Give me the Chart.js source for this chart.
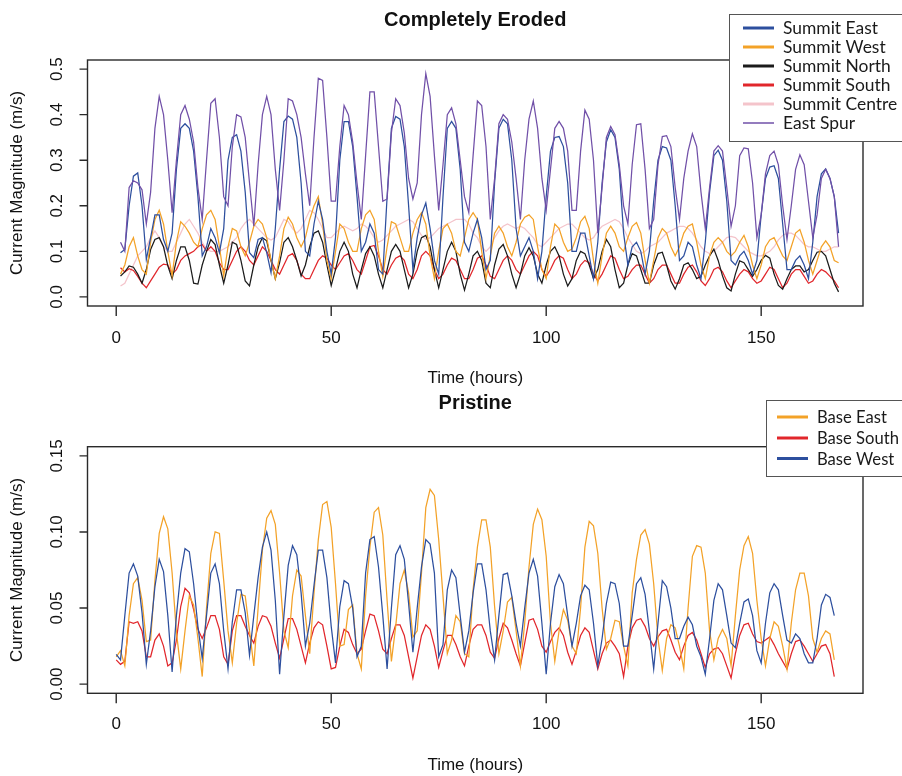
<!DOCTYPE html>
<html><head><meta charset="utf-8">
<script src="https://cdn.jsdelivr.net/npm/chart.js@4.4.0/dist/chart.umd.min.js"></script>
<style>
html,body{margin:0;padding:0;background:#fff;width:902px;height:776px;overflow:hidden}
canvas{position:absolute;left:0}
#c1{top:0}#c2{top:388px}
</style></head><body>
<canvas id="c1" width="902" height="388"></canvas>
<canvas id="c2" width="902" height="388"></canvas>
<script>
// ---------- categories / ticks ----------
const HOURS_TOP = Array.from({length:168},(_,i)=>i+1);
const HOURS_BASE = Array.from({length:168},(_,i)=>i);
const X_TICKS = [0,50,100,150];
const Y_TICKS_TOP = [0,0.1,0.2,0.3,0.4,0.5];
const Y_TICK_LABELS_TOP = ['0.0','0.1','0.2','0.3','0.4','0.5'];
const Y_TICKS_BASE = [0,0.05,0.10,0.15];
const Y_TICK_LABELS_BASE = ['0.00','0.05','0.10','0.15'];

// ---------- Completely Eroded ----------
const SUMMIT_EAST = [0.097,0.104,0.20,0.265,0.272,0.20,0.082,0.13,0.18,0.18,0.126,0.10,
0.14,0.28,0.37,0.38,0.37,0.32,0.22,0.09,0.11,0.15,0.13,0.097,
0.15,0.30,0.35,0.356,0.32,0.23,0.097,0.086,0.126,0.13,0.097,0.053,
0.15,0.28,0.385,0.397,0.39,0.35,0.25,0.10,0.09,0.16,0.21,0.17,
0.10,0.05,0.13,0.30,0.385,0.385,0.33,0.22,0.10,0.12,0.16,0.14,
0.06,0.05,0.22,0.37,0.396,0.39,0.33,0.20,0.06,0.13,0.18,0.206,
0.15,0.08,0.05,0.22,0.37,0.385,0.37,0.28,0.12,0.10,0.14,0.17,
0.13,0.06,0.08,0.25,0.37,0.39,0.38,0.30,0.15,0.09,0.11,0.13,
0.10,0.04,0.10,0.22,0.32,0.35,0.352,0.33,0.25,0.10,0.10,0.14,
0.14,0.09,0.04,0.12,0.25,0.34,0.367,0.35,0.28,0.14,0.07,0.11,
0.12,0.10,0.05,0.10,0.21,0.30,0.33,0.327,0.30,0.20,0.08,0.09,
0.12,0.11,0.07,0.04,0.12,0.23,0.31,0.322,0.30,0.21,0.08,0.07,
0.09,0.10,0.08,0.05,0.08,0.18,0.26,0.285,0.288,0.26,0.16,0.06,
0.06,0.08,0.09,0.07,0.04,0.12,0.22,0.27,0.281,0.26,0.22,0.14];

const SUMMIT_WEST = [0.05,0.07,0.11,0.13,0.09,0.06,0.05,0.12,0.17,0.19,0.16,0.10,
0.046,0.12,0.165,0.155,0.14,0.12,0.11,0.15,0.18,0.19,0.17,0.11,
0.046,0.11,0.15,0.145,0.11,0.09,0.12,0.155,0.17,0.16,0.13,0.08,
0.04,0.09,0.15,0.175,0.16,0.13,0.11,0.13,0.17,0.20,0.22,0.16,
0.08,0.04,0.10,0.16,0.15,0.12,0.10,0.10,0.15,0.18,0.19,0.17,
0.10,0.045,0.11,0.165,0.16,0.13,0.10,0.10,0.14,0.17,0.185,0.16,
0.09,0.04,0.10,0.15,0.16,0.14,0.10,0.09,0.13,0.17,0.185,0.17,
0.10,0.04,0.09,0.14,0.155,0.14,0.11,0.09,0.12,0.16,0.175,0.18,
0.17,0.11,0.06,0.04,0.11,0.16,0.15,0.12,0.10,0.105,0.13,0.165,
0.177,0.15,0.08,0.03,0.09,0.14,0.155,0.14,0.11,0.10,0.13,0.155,
0.163,0.14,0.08,0.03,0.08,0.13,0.15,0.14,0.11,0.09,0.11,0.14,
0.155,0.16,0.12,0.07,0.04,0.09,0.12,0.13,0.12,0.10,0.09,0.10,
0.12,0.135,0.11,0.07,0.04,0.07,0.11,0.125,0.13,0.11,0.09,0.08,
0.11,0.14,0.148,0.12,0.08,0.05,0.08,0.11,0.123,0.11,0.08,0.075];

const SUMMIT_NORTH = [0.046,0.055,0.068,0.065,0.05,0.03,0.06,0.104,0.126,0.13,0.11,0.068,
0.04,0.08,0.11,0.11,0.08,0.03,0.028,0.07,0.10,0.126,0.115,0.07,
0.03,0.07,0.12,0.115,0.08,0.035,0.024,0.07,0.11,0.13,0.123,0.08,
0.04,0.075,0.12,0.13,0.11,0.08,0.046,0.07,0.11,0.14,0.145,0.12,
0.07,0.025,0.06,0.10,0.12,0.10,0.05,0.02,0.06,0.095,0.11,0.09,
0.05,0.02,0.06,0.10,0.115,0.10,0.06,0.02,0.05,0.10,0.13,0.135,
0.11,0.06,0.02,0.06,0.10,0.12,0.10,0.05,0.015,0.05,0.09,0.10,
0.08,0.03,0.02,0.07,0.105,0.115,0.09,0.05,0.02,0.05,0.09,0.108,
0.09,0.05,0.03,0.07,0.10,0.11,0.09,0.05,0.024,0.04,0.08,0.10,
0.095,0.07,0.04,0.06,0.10,0.126,0.11,0.06,0.02,0.03,0.07,0.095,
0.09,0.06,0.03,0.03,0.07,0.095,0.098,0.07,0.035,0.017,0.04,0.07,
0.075,0.06,0.04,0.045,0.07,0.09,0.105,0.08,0.046,0.02,0.013,0.05,
0.079,0.075,0.06,0.045,0.06,0.08,0.091,0.085,0.05,0.025,0.017,0.04,
0.06,0.068,0.068,0.055,0.06,0.08,0.098,0.10,0.09,0.06,0.03,0.011];

const SUMMIT_SOUTH = [0.064,0.055,0.062,0.058,0.045,0.03,0.02,0.035,0.05,0.065,0.072,0.07,
0.05,0.06,0.08,0.09,0.095,0.10,0.11,0.115,0.10,0.11,0.10,0.075,
0.06,0.06,0.08,0.10,0.11,0.10,0.08,0.07,0.09,0.11,0.10,0.08,
0.06,0.05,0.07,0.09,0.095,0.08,0.05,0.04,0.04,0.06,0.08,0.09,
0.085,0.07,0.06,0.075,0.09,0.095,0.08,0.06,0.05,0.08,0.11,0.113,
0.09,0.06,0.05,0.07,0.085,0.09,0.08,0.05,0.04,0.06,0.09,0.10,
0.09,0.06,0.04,0.05,0.07,0.085,0.08,0.06,0.04,0.04,0.06,0.085,
0.09,0.07,0.045,0.04,0.06,0.08,0.09,0.08,0.06,0.05,0.07,0.09,
0.10,0.09,0.06,0.045,0.06,0.08,0.09,0.085,0.06,0.04,0.05,0.07,
0.08,0.075,0.05,0.035,0.05,0.07,0.09,0.085,0.06,0.04,0.045,0.06,
0.07,0.07,0.05,0.03,0.04,0.06,0.07,0.07,0.05,0.03,0.03,0.05,
0.065,0.07,0.055,0.035,0.025,0.04,0.06,0.065,0.055,0.035,0.02,0.035,
0.05,0.06,0.055,0.04,0.03,0.035,0.05,0.065,0.06,0.04,0.02,0.03,
0.05,0.06,0.06,0.045,0.03,0.035,0.05,0.06,0.055,0.045,0.035,0.02];

const SUMMIT_CENTRE = [0.024,0.03,0.05,0.07,0.09,0.10,0.11,0.13,0.145,0.13,0.11,0.10,
0.10,0.12,0.14,0.16,0.17,0.155,0.14,0.12,0.105,0.10,0.10,0.10,
0.105,0.11,0.12,0.13,0.15,0.163,0.17,0.16,0.15,0.14,0.13,0.125,
0.13,0.15,0.17,0.165,0.15,0.14,0.15,0.17,0.19,0.185,0.17,0.15,
0.13,0.13,0.14,0.15,0.155,0.15,0.145,0.15,0.16,0.155,0.145,0.13,
0.12,0.125,0.135,0.145,0.155,0.16,0.165,0.17,0.165,0.15,0.135,0.126,
0.13,0.14,0.15,0.155,0.16,0.165,0.17,0.17,0.17,0.16,0.14,0.13,
0.11,0.10,0.11,0.13,0.145,0.155,0.16,0.155,0.15,0.155,0.15,0.14,
0.13,0.115,0.11,0.12,0.13,0.14,0.15,0.155,0.16,0.16,0.15,0.14,
0.13,0.125,0.13,0.145,0.155,0.16,0.165,0.17,0.165,0.15,0.13,0.115,
0.10,0.095,0.10,0.11,0.115,0.12,0.13,0.14,0.145,0.15,0.155,0.155,
0.15,0.14,0.125,0.11,0.10,0.095,0.10,0.11,0.12,0.13,0.133,0.13,
0.12,0.11,0.10,0.095,0.09,0.09,0.095,0.10,0.11,0.125,0.135,0.14,
0.14,0.135,0.125,0.115,0.11,0.11,0.105,0.10,0.10,0.105,0.11,0.11];

const EAST_SPUR = [0.12,0.10,0.24,0.255,0.25,0.235,0.16,0.23,0.37,0.44,0.40,0.30,
0.185,0.30,0.40,0.42,0.39,0.34,0.24,0.17,0.30,0.425,0.435,0.35,
0.22,0.20,0.33,0.40,0.395,0.35,0.25,0.155,0.29,0.40,0.44,0.40,
0.28,0.19,0.30,0.435,0.43,0.40,0.35,0.27,0.20,0.35,0.48,0.475,
0.35,0.21,0.21,0.33,0.42,0.40,0.34,0.25,0.17,0.31,0.45,0.45,
0.33,0.21,0.215,0.36,0.435,0.42,0.36,0.26,0.215,0.25,0.40,0.49,
0.44,0.31,0.19,0.29,0.40,0.415,0.38,0.30,0.22,0.185,0.31,0.43,
0.42,0.33,0.17,0.26,0.38,0.40,0.39,0.34,0.26,0.17,0.30,0.39,
0.43,0.37,0.26,0.19,0.28,0.37,0.385,0.37,0.32,0.19,0.19,0.32,
0.41,0.39,0.30,0.14,0.24,0.35,0.374,0.356,0.29,0.20,0.16,0.29,
0.378,0.38,0.28,0.15,0.17,0.29,0.352,0.354,0.33,0.24,0.17,0.26,
0.32,0.358,0.33,0.23,0.15,0.24,0.32,0.332,0.32,0.24,0.155,0.20,
0.31,0.327,0.325,0.25,0.13,0.18,0.27,0.31,0.32,0.29,0.20,0.126,
0.20,0.28,0.312,0.29,0.21,0.13,0.18,0.26,0.28,0.26,0.22,0.11];

// ---------- Pristine ----------
const BASE_EAST = [0.018,0.022,0.012,0.045,0.066,0.07,0.055,0.028,0.029,0.068,0.099,0.11,
0.102,0.073,0.034,0.01,0.035,0.058,0.052,0.03,0.005,0.05,0.086,0.10,
0.099,0.068,0.035,0.014,0.04,0.059,0.058,0.035,0.012,0.05,0.088,0.109,
0.114,0.105,0.073,0.035,0.024,0.058,0.075,0.071,0.045,0.02,0.06,0.095,
0.118,0.12,0.103,0.066,0.025,0.026,0.049,0.052,0.02,0.01,0.058,0.09,
0.113,0.116,0.098,0.055,0.015,0.038,0.066,0.075,0.06,0.031,0.035,0.073,
0.116,0.128,0.124,0.095,0.058,0.02,0.029,0.045,0.041,0.02,0.018,0.062,
0.09,0.108,0.108,0.09,0.051,0.02,0.035,0.054,0.057,0.035,0.012,0.04,
0.077,0.105,0.115,0.108,0.084,0.04,0.015,0.035,0.049,0.042,0.025,0.02,
0.05,0.09,0.107,0.104,0.086,0.05,0.023,0.03,0.042,0.041,0.025,0.012,
0.06,0.082,0.098,0.1015,0.092,0.066,0.03,0.009,0.03,0.039,0.037,0.025,
0.01,0.05,0.084,0.091,0.09,0.073,0.035,0.016,0.03,0.036,0.03,0.012,
0.045,0.075,0.091,0.097,0.086,0.055,0.03,0.012,0.03,0.041,0.038,0.025,
0.01,0.04,0.062,0.073,0.073,0.058,0.03,0.021,0.03,0.035,0.033,0.016];

const BASE_SOUTH = [0.016,0.013,0.015,0.041,0.04,0.041,0.035,0.018,0.018,0.029,0.033,0.025,
0.012,0.014,0.029,0.051,0.063,0.06,0.049,0.036,0.03,0.037,0.045,0.045,
0.036,0.018,0.013,0.035,0.045,0.045,0.038,0.032,0.027,0.038,0.045,0.044,
0.038,0.027,0.017,0.03,0.043,0.043,0.036,0.025,0.014,0.027,0.037,0.041,
0.039,0.025,0.01,0.011,0.025,0.036,0.034,0.026,0.02,0.023,0.035,0.046,
0.045,0.035,0.023,0.02,0.03,0.039,0.039,0.032,0.018,0.004,0.018,0.032,
0.039,0.036,0.025,0.011,0.022,0.032,0.032,0.026,0.018,0.012,0.025,0.036,
0.039,0.039,0.032,0.021,0.017,0.03,0.04,0.037,0.029,0.02,0.012,0.027,
0.042,0.043,0.036,0.025,0.021,0.028,0.034,0.037,0.032,0.021,0.013,0.022,
0.032,0.037,0.034,0.022,0.01,0.02,0.027,0.029,0.025,0.02,0.005,0.025,
0.037,0.042,0.043,0.038,0.03,0.025,0.031,0.035,0.036,0.029,0.021,0.016,
0.025,0.032,0.034,0.029,0.02,0.011,0.02,0.023,0.024,0.02,0.012,0.004,
0.02,0.032,0.039,0.04,0.033,0.028,0.027,0.029,0.031,0.026,0.02,0.015,
0.01,0.02,0.028,0.029,0.025,0.02,0.015,0.02,0.025,0.026,0.02,0.005];

const BASE_WEST = [0.0196,0.016,0.045,0.073,0.079,0.071,0.047,0.013,0.035,0.064,0.082,0.074,
0.045,0.008,0.045,0.073,0.089,0.087,0.066,0.038,0.017,0.045,0.073,0.079,
0.066,0.035,0.01,0.041,0.062,0.062,0.047,0.019,0.045,0.07,0.09,0.10,
0.088,0.055,0.0065,0.045,0.078,0.091,0.085,0.06,0.025,0.04,0.065,0.088,
0.088,0.07,0.038,0.014,0.051,0.068,0.066,0.05,0.018,0.025,0.073,0.095,
0.097,0.077,0.045,0.01,0.05,0.085,0.091,0.082,0.053,0.021,0.05,0.077,
0.095,0.092,0.073,0.018,0.026,0.062,0.075,0.07,0.045,0.021,0.035,0.06,
0.079,0.079,0.062,0.035,0.016,0.045,0.072,0.073,0.058,0.04,0.025,0.05,
0.073,0.082,0.071,0.04,0.0065,0.04,0.064,0.072,0.066,0.045,0.025,0.04,
0.058,0.065,0.062,0.04,0.012,0.03,0.053,0.067,0.066,0.053,0.025,0.025,
0.045,0.066,0.07,0.059,0.035,0.01,0.04,0.068,0.064,0.05,0.03,0.03,
0.038,0.044,0.039,0.025,0.018,0.0065,0.03,0.055,0.066,0.062,0.045,0.027,
0.024,0.04,0.054,0.056,0.045,0.022,0.014,0.04,0.06,0.066,0.062,0.045,
0.029,0.027,0.033,0.03,0.02,0.014,0.014,0.03,0.052,0.059,0.057,0.045];

// ---------- colours ----------
const C_BLUE = '#2d4f9e', C_ORANGE = '#f3a228', C_BLACK = '#1b1b1b', C_RED = '#e1262b', C_PINK = '#f4c4cb', C_PURPLE = '#7150a8';

function pts(xs, ys){ return xs.map((h,i)=>({x:h, y:ys[i]})); }
function ds(label, xs, ys, color, order){
  return {label, data: pts(xs, ys), borderColor: color, backgroundColor: color, borderWidth: 1.25,
          pointRadius: 0, tension: 0, fill: false, order};
}

function decor(cfg){
  return {
    id: 'decor',
    afterDraw(chart){
      const ctx = chart.ctx, a = chart.chartArea, xs = chart.scales.x, ys = chart.scales.y;
      ctx.save();
      ctx.strokeStyle = '#2a2a2a'; ctx.lineWidth = 1.4;
      ctx.strokeRect(a.left, a.top, a.right - a.left, a.bottom - a.top);
      ctx.fillStyle = '#111';
      ctx.font = "17px 'Liberation Sans', Arial, sans-serif";
      // x axis
      ctx.textAlign = 'center'; ctx.textBaseline = 'middle';
      ctx.beginPath();
      X_TICKS.forEach(v => { const px = xs.getPixelForValue(v); ctx.moveTo(px, a.bottom); ctx.lineTo(px, a.bottom + 10); });
      ctx.stroke();
      X_TICKS.forEach(v => ctx.fillText(String(v), xs.getPixelForValue(v), cfg.xLabelY));
      ctx.fillText('Time (hours)', (a.left + a.right) / 2, cfg.xTitleY);
      // y axis
      ctx.beginPath();
      cfg.yTicks.forEach(v => { const py = ys.getPixelForValue(v); ctx.moveTo(a.left - 8, py); ctx.lineTo(a.left, py); });
      ctx.stroke();
      cfg.yTicks.forEach((v, i) => {
        const py = ys.getPixelForValue(v);
        ctx.save(); ctx.translate(cfg.yLabelX, py); ctx.rotate(-Math.PI / 2);
        ctx.textAlign = 'center'; ctx.textBaseline = 'middle';
        ctx.fillText(cfg.yLabels[i], 0, 0); ctx.restore();
      });
      ctx.save(); ctx.translate(cfg.yTitleX, (a.top + a.bottom) / 2); ctx.rotate(-Math.PI / 2);
      ctx.textAlign = 'center'; ctx.textBaseline = 'middle';
      ctx.fillText('Current Magnitude (m/s)', 0, 0); ctx.restore();
      // title
      ctx.font = "bold 20px 'Liberation Sans', Arial, sans-serif";
      ctx.textAlign = 'center'; ctx.textBaseline = 'middle';
      ctx.fillText(cfg.title, (a.left + a.right) / 2, cfg.titleY);
      // legend
      const L = cfg.legend;
      ctx.fillStyle = '#fff'; ctx.fillRect(L.x, L.y, L.w, L.h);
      ctx.strokeStyle = '#555'; ctx.lineWidth = 1;
      ctx.strokeRect(L.x + 0.5, L.y + 0.5, L.w, L.h);
      ctx.font = "17px Lato, 'Open Sans', sans-serif";
      const sc = L.refWidth / ctx.measureText(L.items[0][0]).width;
      L.items.forEach((it, i) => {
        const yy = L.rowY[i];
        ctx.strokeStyle = it[1]; ctx.lineWidth = it[2];
        ctx.beginPath(); ctx.moveTo(L.lineX0, yy); ctx.lineTo(L.lineX1, yy); ctx.stroke();
        ctx.save(); ctx.translate(L.textX, yy); ctx.scale(sc, 1);
        ctx.fillStyle = '#1a1a1a'; ctx.textAlign = 'left'; ctx.textBaseline = 'middle';
        ctx.fillText(it[0], 0, 1); ctx.restore();
      });
      ctx.restore();
    }
  };
}

function makeChart(id, datasets, yMin, yMax, pad, cfg){
  return new Chart(document.getElementById(id), {
    type: 'line',
    data: { datasets },
    options: {
      responsive: false, animation: false, devicePixelRatio: 1, events: [],
      layout: { padding: pad },
      plugins: { legend: { display: false }, tooltip: { enabled: false }, title: { display: false } },
      scales: {
        x: { type: 'linear', min: -6.68, max: 173.68, display: false },
        y: { type: 'linear', min: yMin, max: yMax, display: false }
      }
    },
    plugins: [decor(cfg)]
  });
}

makeChart('c1', [
  ds('East Spur', HOURS_TOP, EAST_SPUR, C_PURPLE, 1),
  ds('Summit East', HOURS_TOP, SUMMIT_EAST, C_BLUE, 2),
  ds('Summit West', HOURS_TOP, SUMMIT_WEST, C_ORANGE, 3),
  ds('Summit North', HOURS_TOP, SUMMIT_NORTH, C_BLACK, 4),
  ds('Summit South', HOURS_TOP, SUMMIT_SOUTH, C_RED, 5),
  ds('Summit Centre', HOURS_TOP, SUMMIT_CENTRE, C_PINK, 6)
], -0.02, 0.52, {left: 87.5, right: 39, top: 60, bottom: 82}, {
  title: 'Completely Eroded', titleY: 20, xLabelY: 338, xTitleY: 378, yLabelX: 57, yTitleX: 17,
  yTicks: Y_TICKS_TOP, yLabels: Y_TICK_LABELS_TOP,
  legend: { x: 729, y: 14, w: 190, h: 127, lineX0: 743, lineX1: 774, textX: 783, refWidth: 95,
    rowY: [28, 47, 66, 85, 104, 123],
    items: [['Summit East', C_BLUE, 3], ['Summit West', C_ORANGE, 3], ['Summit North', C_BLACK, 3],
            ['Summit South', C_RED, 3], ['Summit Centre', C_PINK, 3], ['East Spur', C_PURPLE, 1.5]] }
});

makeChart('c2', [
  ds('Base West', HOURS_BASE, BASE_WEST, C_BLUE, 1),
  ds('Base East', HOURS_BASE, BASE_EAST, C_ORANGE, 2),
  ds('Base South', HOURS_BASE, BASE_SOUTH, C_RED, 3)
], -0.006, 0.156, {left: 87.5, right: 39, top: 58.7, bottom: 82.7}, {
  title: 'Pristine', titleY: 15, xLabelY: 336, xTitleY: 377, yLabelX: 57, yTitleX: 17,
  yTicks: Y_TICKS_BASE, yLabels: Y_TICK_LABELS_BASE,
  legend: { x: 766, y: 12, w: 150, h: 76, lineX0: 777, lineX1: 808, textX: 817, refWidth: 70,
    rowY: [29, 50, 70.5],
    items: [['Base East', C_ORANGE, 3], ['Base South', C_RED, 3], ['Base West', C_BLUE, 3]] }
});
</script>
</body></html>
